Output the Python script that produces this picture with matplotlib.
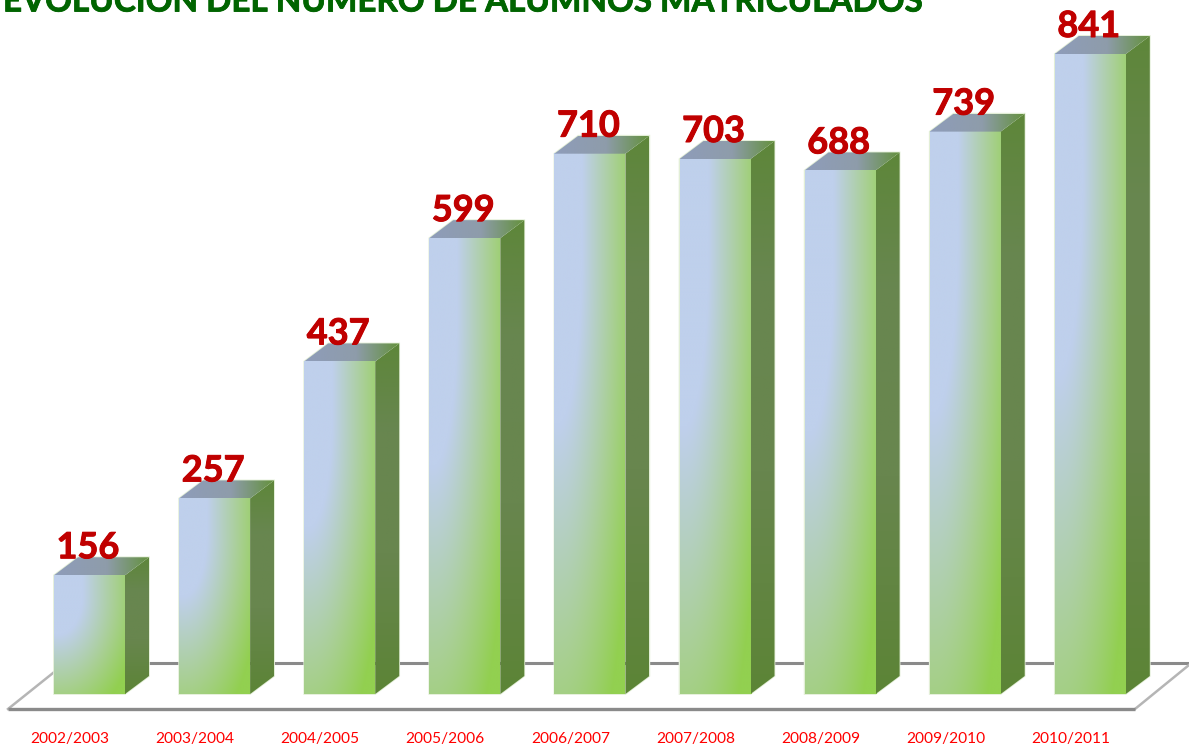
import matplotlib
matplotlib.use("Agg")
import matplotlib.pyplot as plt
import matplotlib.patheffects as pe
import numpy as np
from matplotlib.patches import Polygon

cursos = ["2002/2003", "2003/2004", "2004/2005", "2005/2006", "2006/2007",
          "2007/2008", "2008/2009", "2009/2010", "2010/2011"]
alumnos = [156, 257, 437, 599, 710, 703, 688, 739, 841]
titulo = "EVOLUCIÓN DEL NÚMERO DE ALUMNOS MATRICULADOS"

W, H = 1189, 751
# pixel layout of the chart
X0, XSTEP = 89.5, 125.1
Y0, YSCALE = 694, 0.761

AZUL = np.array([191, 208, 236]) / 255
MEDIO = np.array([168, 207, 145]) / 255
VERDE = np.array([146, 208, 80]) / 255


def px_x(p):
    return (p - X0) / XSTEP


def px_y(p):
    return (Y0 - p) / YSCALE


BAR_W = 71 / XSTEP
DX = 24 / XSTEP
DY = 18 / YSCALE


def ramp(r, stops, colors):
    return np.stack([np.interp(r, stops, [c[k] for c in colors]) for k in range(3)], axis=-1)


def front_gradient():
    u, v = np.meshgrid(np.linspace(0, 1, 120), np.linspace(0, 1, 300))
    # straight band in the upper part, elliptical fade below
    r = np.hypot((u - 0.05) / 0.83, np.maximum(v - 0.17, 0) / 0.79)
    return ramp(r, [0.42, 0.98, 1.4], [AZUL, MEDIO, VERDE])


def side_gradient():
    v = np.linspace(0, 1, 200)[:, None]
    colors = [np.array(c) / 255 for c in [(94, 134, 58), (104, 134, 80), (104, 134, 78), (92, 132, 54)]]
    return ramp(v, [0, 0.25, 0.6, 1], colors)


def top_gradient():
    u = np.linspace(0, 1, 120)[None, :]
    colors = [np.array(c) / 255 for c in [(142, 156, 186), (142, 156, 170), (100, 145, 62)]]
    return ramp(u, [0, 0.55, 1], colors)


plt.rcParams['font.family'] = ['Lato', 'DejaVu Sans']

fig = plt.figure(figsize=(W / 100, H / 100), dpi=100)
ax = fig.add_axes([0, 0, 1, 1])
ax.set_xlim(px_x(0), px_x(W))
ax.set_ylim(px_y(H), px_y(0))
ax.axis("off")

# floor, behind the bars
gris = "#8a8a8a"
ax.plot([px_x(63), px_x(1189)], [px_y(663), px_y(663)], color=gris, lw=2.2, zorder=1, solid_capstyle="butt")
ax.plot([px_x(8), px_x(63)], [px_y(709), px_y(665)], color="#b5b5b5", lw=1.8, zorder=1)
ax.plot([px_x(1135), px_x(1189)], [px_y(709), px_y(665)], color="#b5b5b5", lw=1.8, zorder=1)
ax.plot([px_x(8), px_x(1135)], [px_y(709), px_y(709)], color=gris, lw=2.4, zorder=1, solid_capstyle="butt")

front_img = front_gradient()
side_img = side_gradient()
top_img = top_gradient()
grueso = [pe.withStroke(linewidth=0.7, foreground="#c00000")]

for i, val in enumerate(alumnos):
    x1, x2 = i - BAR_W / 2, i + BAR_W / 2

    # soft light edge round the whole bar
    outline = [(x1, 0), (x2, 0), (x2 + DX, DY), (x2 + DX, val + DY), (x1 + DX, val + DY), (x1, val)]
    ax.add_patch(Polygon(outline, closed=True, fc="none", ec="#e2eed6", lw=1.2, zorder=2))

    ax.imshow(front_img, extent=(x1, x2, 0, val), aspect="auto", origin="upper", zorder=3, interpolation="bilinear")

    side = Polygon([(x2, 0), (x2 + DX, DY), (x2 + DX, val + DY), (x2, val)], closed=True, transform=ax.transData)
    im = ax.imshow(side_img, extent=(x2, x2 + DX, 0, val + DY), aspect="auto", origin="upper", zorder=3)
    im.set_clip_path(side)

    top = Polygon([(x1, val), (x2, val), (x2 + DX, val + DY), (x1 + DX, val + DY)], closed=True, transform=ax.transData)
    im = ax.imshow(top_img, extent=(x1, x2 + DX, val, val + DY), aspect="auto", origin="upper", zorder=3)
    im.set_clip_path(top)

    ax.text(i - 0.012, val + 17 / YSCALE, str(val), ha="center", va="baseline", color="#c00000",
            fontsize=26, fontweight="bold", zorder=5, path_effects=grueso)
    ax.text(i - 0.156, px_y(739), cursos[i], ha="center", va="center", color="#ff0000", fontsize=11.2, zorder=5)

ax.set_xlim(px_x(0), px_x(W))
ax.set_ylim(px_y(H), px_y(0))

ax.text(px_x(3), px_y(11.5), titulo, ha="left", va="baseline", color="#006400",
        fontsize=23.9, fontweight="bold", zorder=5,
        path_effects=[pe.withStroke(linewidth=0.6, foreground="#006400")])

fig.savefig("out.png", dpi=100)
plt.close(fig)
